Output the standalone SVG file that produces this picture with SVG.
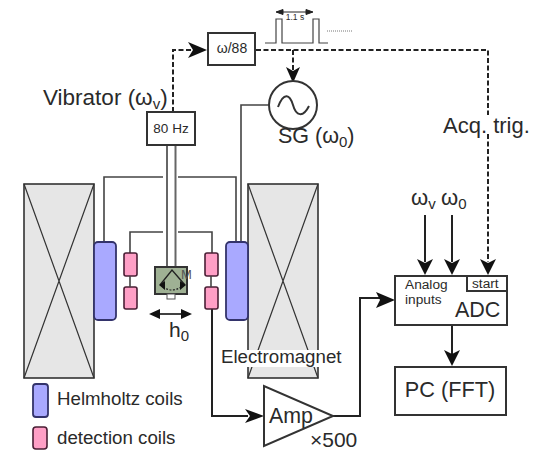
<svg xmlns="http://www.w3.org/2000/svg" width="535" height="453" viewBox="0 0 535 453">
<style>
text{font-family:"Liberation Sans",Arial,sans-serif;fill:#2a2a2a}
.box{fill:#fff;stroke:#333;stroke-width:2}
.w{fill:none;stroke:#444;stroke-width:1.6}
.s{fill:none;stroke:#222;stroke-width:2}
.d{fill:none;stroke:#222;stroke-width:2;stroke-dasharray:5 2.5}
.mag{fill:#e6e6e6;stroke:#333;stroke-width:1.6}
.x{stroke:#333;stroke-width:1.2;fill:none}
.h{fill:#a9a9ff;stroke:#33336b;stroke-width:1.8}
.p{fill:#ff9fc6;stroke:#4a1f35;stroke-width:1.6}
.f{fill:#111;stroke:none}
</style>
<g id="magnet-left"><rect class="mag" x="24" y="184" width="70" height="194"/><path class="x" d="M24 184L94 378M94 184L24 378"/></g>
<g id="magnet-right"><rect class="mag" x="248" y="184" width="70" height="194"/><path class="x" d="M248 184L318 378M318 184L248 378"/></g>
<g id="connectors">
<path class="w" d="M104 242V177H163M178 177H236V242M130 253V232H163M178 232H212V253"/>
<path class="w" d="M241 242V105H268"/>
<path class="s" d="M212 309V416H248"/>
<path class="s" d="M333 416H360V298H380"/>
<path class="f" d="M395 300L376 292L380 300L376 308Z"/>
<path class="f" d="M264 416L245 409L250 416L245 423Z"/>
<path class="d" d="M173 112V50H192"/>
<path class="f" d="M207 50L188 42L193 50L188 58Z"/>
<path class="d" d="M256 50H488V115M488 134V262"/>
<path class="d" d="M293 50V72"/>
<path class="f" d="M293 83L286 67L293 71L300 67Z"/>
<path class="s" d="M425 215V262M452 215V262M452 325V354"/>
<path class="f" d="M425 275L417 259L425 263L433 259Z"/>
<path class="f" d="M452 275L444 259L452 263L460 259Z"/>
<path class="f" d="M452 366L444 350L452 354L460 350Z"/>
<path class="f" d="M488 275L480 259L488 263L496 259Z"/>
<path d="M155 314H186" stroke="#111" stroke-width="1.600"/>
<path class="f" d="M149 314L160 309V319ZM192 314L181 309V319Z"/>
<path d="M277 12H312M276 12L283 9.500V14.500ZM313 12L306 9.500V14.500Z" fill="#222" stroke="#222" stroke-width="1"/>
<path d="M265 43H276V19H282V43H313V19H319V43H328" fill="none" stroke="#444" stroke-width="1.200"/>
<path d="M327 31H353" stroke="#777" stroke-width="1" stroke-dasharray="1 1"/>
</g>
<g id="rod"><rect x="167" y="145" width="8.500" height="122" fill="#fff" stroke="#666" stroke-width="2"/></g>
<g id="vibrator"><rect class="box" x="147" y="112" width="48" height="33"/><text x="171" y="133" font-size="13.500" text-anchor="middle">80 Hz</text></g>
<g id="divider"><rect class="box" x="208" y="33" width="47" height="32"/><text x="232" y="53" font-size="14" text-anchor="middle">ω/88</text></g>
<g id="sg"><circle cx="293" cy="105" r="24" fill="#fff" stroke="#333" stroke-width="2"/><path d="M278 107C284 91 290 95 293 105C296 116 303 118 309 106" fill="none" stroke="#333" stroke-width="2"/><text x="278" y="143" font-size="21.500">SG (ω<tspan font-size="15" dy="4">0</tspan><tspan dy="-4">)</tspan></text></g>
<g id="helmholtz-left"><rect class="h" x="94" y="242" width="22" height="78" rx="4"/></g>
<g id="helmholtz-right"><rect class="h" x="226" y="242" width="22" height="78" rx="4"/></g>
<g id="detection-left"><rect class="p" x="124" y="253" width="13" height="23" rx="2"/><rect class="p" x="124" y="287" width="13" height="22" rx="2"/><path class="w" d="M130 276V287"/></g>
<g id="detection-right"><rect class="p" x="205" y="253" width="13" height="23" rx="2"/><rect class="p" x="205" y="287" width="13" height="22" rx="2"/><path class="w" d="M211 276V287"/></g>
<g id="sample"><rect x="155" y="267" width="32" height="27" fill="#9fb194" stroke="#333" stroke-width="2"/><rect x="167" y="294" width="8" height="5" fill="#fff" stroke="#555"/><path d="M160 285L172 270L185 285" fill="none" stroke="#222" stroke-width="1.400"/><path d="M163 287Q172 293 181 287" fill="none" stroke="#222" stroke-width="1.200" stroke-dasharray="2 1.500"/><path class="f" d="M159 285L165 281V290ZM186 285L180 281V290Z"/><text x="181" y="279" font-size="13" style="fill:#555">M</text></g>
<g id="adc"><rect class="box" x="395" y="276" width="112" height="49"/><path d="M467 276V291H507" fill="none" stroke="#333" stroke-width="2"/><text x="405" y="289" font-size="13.700">Analog</text><text x="405" y="304" font-size="13.700">inputs</text><text x="472" y="288" font-size="13.700">start</text><text x="455" y="317" font-size="21.500">ADC</text></g>
<g id="pc"><rect class="box" x="395" y="367" width="111" height="48"/><text x="450" y="397" font-size="21.700" text-anchor="middle">PC (FFT)</text></g>
<g id="amp"><path class="box" d="M264 386V446L333 416Z"/><text x="269" y="423" font-size="21.400">Amp</text><text x="310" y="447" font-size="21">×500</text></g>
<g id="labels">
<text x="43" y="105" font-size="22.500">Vibrator (ω<tspan font-size="15" dy="4">v</tspan><tspan dy="-4">)</tspan></text>
<text x="169" y="337" font-size="21">h<tspan font-size="15" dy="4">0</tspan></text>
<rect x="245" y="350" width="76" height="17" fill="#fff"/>
<text x="221" y="363" font-size="18.700">Electromagnet</text>
<text x="57" y="405" font-size="18.700">Helmholtz coils</text>
<text x="57" y="444" font-size="18.700">detection coils</text>
<text x="443" y="133" font-size="22">Acq. trig.</text>
<text x="411" y="205" font-size="22">ω<tspan font-size="15" dy="4">v</tspan></text>
<text x="441" y="205" font-size="22">ω<tspan font-size="15" dy="4">0</tspan></text>
<text x="295" y="20" font-size="8.500" text-anchor="middle">1.1 s</text>
</g>
<g id="legend"><rect class="h" x="33" y="384" width="15" height="33" rx="3" stroke-width="1"/><rect class="p" x="33" y="427" width="14" height="22" rx="3" stroke-width="1"/></g>
</svg>
